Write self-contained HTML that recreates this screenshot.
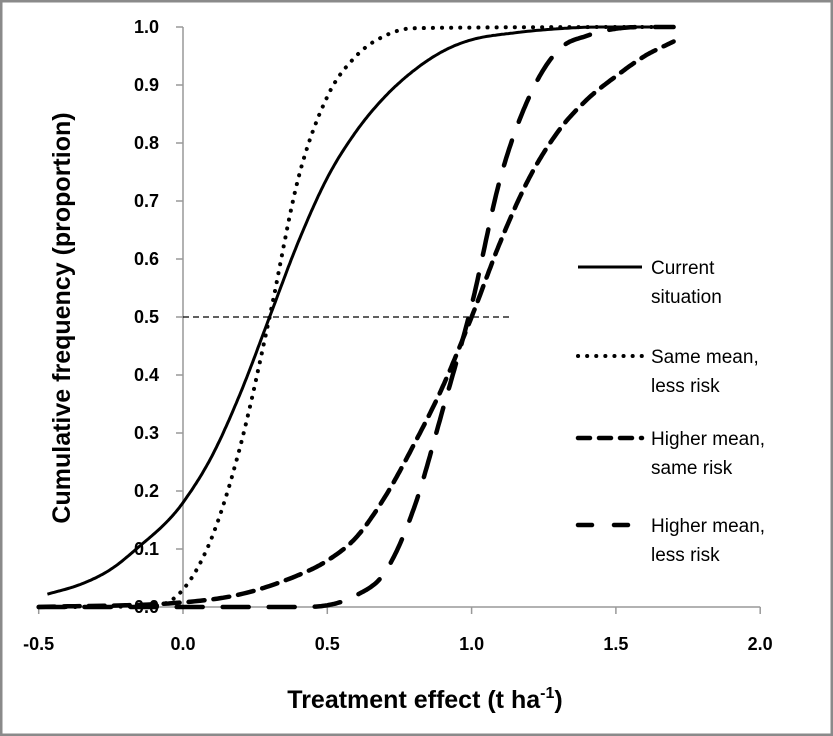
<!DOCTYPE html>
<html><head><meta charset="utf-8"><style>
html,body{margin:0;padding:0;background:#fff}
svg{display:block}
text{font-family:"Liberation Sans",Arial,sans-serif}
</style></head><body>
<svg id="c" width="833" height="736" viewBox="0 0 833 736">
<rect x="1" y="1" width="831" height="734" fill="#fff" stroke="#8a8a8a" stroke-width="3"/>
<g id="axes"></g><g id="series"></g><g id="legend"></g>
<text x="70" y="318" transform="rotate(-90 70 318)" text-anchor="middle" font-size="25" font-weight="bold" fill="#000">Cumulative frequency (proportion)</text>
<text x="425" y="708" text-anchor="middle" font-size="25" font-weight="bold" fill="#000">Treatment effect (t ha<tspan font-size="16" dy="-10">-1</tspan><tspan dy="10">)</tspan></text>
</svg>
<script>
const xTicks=[-0.5,0.0,0.5,1.0,1.5,2.0];
const yTicks=[0,0.1,0.2,0.3,0.4,0.5,0.6,0.7,0.8,0.9,1.0];
const currentX=[-0.47,-0.35,-0.25,-0.15,-0.05,0,0.1,0.2,0.3,0.4,0.5,0.6,0.7,0.8,0.9,1.0,1.15,1.3,1.45,1.7];
const currentY=[0.022,0.04,0.065,0.105,0.15,0.18,0.26,0.37,0.5,0.63,0.74,0.82,0.88,0.925,0.958,0.978,0.99,0.997,1.0,1.0];
const sameMeanX=[-0.5,-0.1,0,0.1,0.2,0.3,0.4,0.5,0.6,0.7,0.8,1.7];
const sameMeanY=[0,0.002,0.03,0.12,0.28,0.5,0.74,0.88,0.95,0.985,0.998,1.0];
const higherSameX=[-0.5,0,0.2,0.4,0.5,0.6,0.7,0.8,0.9,1.0,1.1,1.2,1.3,1.4,1.5,1.6,1.7];
const higherSameY=[0,0.008,0.022,0.055,0.08,0.12,0.19,0.28,0.38,0.5,0.63,0.74,0.82,0.875,0.915,0.95,0.975];
const higherLessX=[-0.5,0.4,0.5,0.6,0.7,0.8,0.9,1.0,1.1,1.2,1.3,1.4,1.5,1.6,1.7];
const higherLessY=[0,0,0.003,0.02,0.06,0.17,0.34,0.52,0.74,0.88,0.96,0.985,0.997,1.0,1.0];
const refLineX=[0.0,1.13];
const refLineY=[0.5,0.5];
const NS="http://www.w3.org/2000/svg";
const sx=v=>183+(v)*288.6;
const sy=v=>607-v*580;
function mk(tag,attrs,parent){const e=document.createElementNS(NS,tag);for(const k in attrs)e.setAttribute(k,attrs[k]);parent.appendChild(e);return e;}
const axes=document.getElementById('axes');
let ax=mk('line',{x1:sx(-0.5),x2:sx(2.0),y1:sy(0),y2:sy(0),stroke:'#999','stroke-width':1.5},axes);


let ay=mk('line',{x1:sx(0),x2:sx(0),y1:sy(0),y2:sy(1),stroke:'#999','stroke-width':1.5},axes);


xTicks.forEach(t=>{
  const l=mk('line',{x1:sx(t),x2:sx(t),y1:sy(0),y2:sy(0)+7,stroke:'#999','stroke-width':1.5},axes);
  
  
  const tx=mk('text',{x:sx(t),y:650,'text-anchor':'middle','font-size':18,'font-weight':'bold'},axes);
  tx.textContent=t.toFixed(1);
  
  
});
yTicks.forEach(t=>{
  const l=mk('line',{x1:sx(0)-7,x2:sx(0),y1:sy(t),y2:sy(t),stroke:'#999','stroke-width':1.5},axes);
  
  
  const tx=mk('text',{x:159,y:sy(t)+6,'text-anchor':'end','font-size':18,'font-weight':'bold'},axes);
  tx.textContent=t.toFixed(1);
  
  
});
function mono(xs,ys){
  const n=xs.length,d=[],m=new Array(n);
  for(let i=0;i<n-1;i++)d.push((ys[i+1]-ys[i])/(xs[i+1]-xs[i]));
  m[0]=d[0];m[n-1]=d[n-2];
  for(let i=1;i<n-1;i++){m[i]=(d[i-1]*d[i]<=0)?0:(d[i-1]+d[i])/2;}
  for(let i=0;i<n-1;i++){if(d[i]===0){m[i]=0;m[i+1]=0;continue;}const a=m[i]/d[i],b=m[i+1]/d[i],s=a*a+b*b;if(s>9){const t=3/Math.sqrt(s);m[i]=t*a*d[i];m[i+1]=t*b*d[i];}}
  let p='';
  for(let i=0;i<n-1;i++){const h=xs[i+1]-xs[i];
    for(let k=0;k<=20;k++){const t=k/20,t2=t*t,t3=t2*t;
      const y=(2*t3-3*t2+1)*ys[i]+(t3-2*t2+t)*h*m[i]+(-2*t3+3*t2)*ys[i+1]+(t3-t2)*h*m[i+1];
      const x=xs[i]+t*h;
      p+=(p?'L':'M')+sx(x).toFixed(1)+','+sy(y).toFixed(1);}}
  return p;
}
const ser=document.getElementById('series');
const r=mk('path',{d:'M'+sx(refLineX[0])+','+sy(refLineY[0])+'L'+sx(refLineX[1])+','+sy(refLineY[1]),stroke:'#000','stroke-width':1.3,'stroke-dasharray':'6 4',fill:'none'},ser);


const styles=[
 [currentX,currentY,{'stroke-width':3},'current-situation-line'],
 [sameMeanX,sameMeanY,{'stroke-width':4,'stroke-dasharray':'0.1 9','stroke-linecap':'round'},'same-mean-less-risk-line'],
 [higherSameX,higherSameY,{'stroke-width':4.5,'stroke-dasharray':'16 9','stroke-linecap':'round'},'higher-mean-same-risk-line'],
 [higherLessX,higherLessY,{'stroke-width':4.5,'stroke-dasharray':'26 20','stroke-linecap':'round'},'higher-mean-less-risk-line']];
styles.forEach(s=>{
  const e=mk('path',Object.assign({d:mono(s[0],s[1]),stroke:'#000',fill:'none'},s[2]),ser);
  
  
});
const leg=document.getElementById('legend');
const legendLabels=[['Current','situation'],['Same mean,','less risk'],['Higher mean,','same risk'],['Higher mean,','less risk']];
const legY=[267,356,438,525];
legendLabels.forEach((lab,i)=>{
  const st=Object.assign({},styles[i][2]);
  if(i===2)st['stroke-dasharray']='12 9';
  if(i===3)st['stroke-dasharray']='14 22';
  const l=mk('line',Object.assign({x1:578,x2:642,y1:legY[i],y2:legY[i],stroke:'#000'},st),leg);
  
  
  const t=mk('text',{x:651,y:legY[i]+7,'font-size':19},leg);
  t.textContent=lab[0];
  
  
  const t2=mk('text',{x:651,y:legY[i]+36,'font-size':19},leg);
  t2.textContent=lab[1];
  
  
});
</script>
</body></html>
